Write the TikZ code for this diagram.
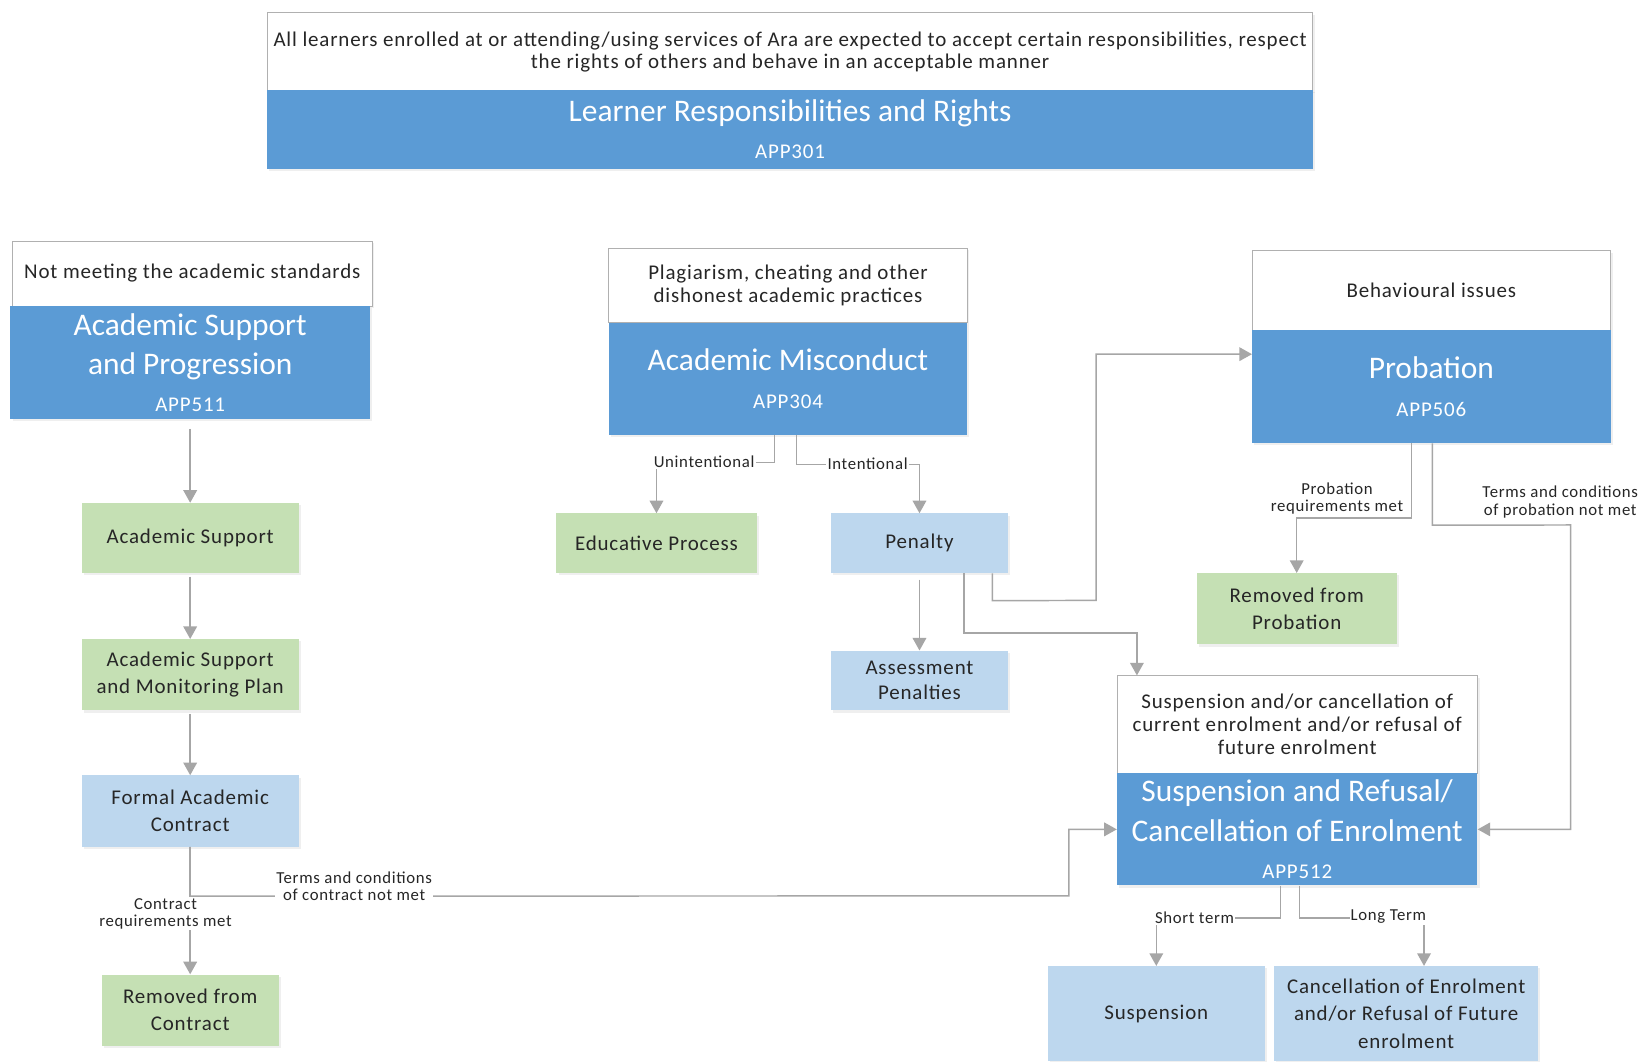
\documentclass[tikz,border=0pt]{standalone}
\usepackage{fontspec}
\setmainfont{Carlito}
\newfontfamily\bodyf{Carlito}[LetterSpace=4]
\usetikzlibrary{arrows.meta,shadows}
\definecolor{dblue}{HTML}{5B9BD5}
\definecolor{lblue}{HTML}{BDD7EE}
\definecolor{lgreen}{HTML}{C5E0B4}
\definecolor{lnc}{HTML}{A6A6A6}
\definecolor{bdr}{HTML}{B0B0B0}
\definecolor{txt}{HTML}{262626}
\newcommand\codef{\bodyf\fontsize{20}{24}\selectfont}
\begin{document}
\begin{tikzpicture}[x=1pt,y=-1pt,
  box/.style={rectangle, inner sep=0pt, align=center,
    drop shadow={shadow xshift=2pt, shadow yshift=-2pt, opacity=0.12}},
  whitebox/.style={box, draw=bdr, line width=0.9pt, fill=white, text=txt,
    font=\bodyf\fontsize{20}{21.5}\selectfont},
  bluebox/.style={box, fill=dblue, text=white, font=\fontsize{30}{38}\selectfont},
  lbbox/.style={box, fill=lblue, text=txt, font=\bodyf\fontsize{20}{26}\selectfont},
  grbox/.style={box, fill=lgreen, text=txt, font=\bodyf\fontsize{20}{26}\selectfont},
  conn/.style={draw=lnc, line width=1.4pt, -{Triangle[width=13pt,length=12pt]}},
  lbl/.style={fill=white, inner sep=1pt, text=txt, align=center,
    font=\bodyf\fontsize{16}{16.5}\selectfont},
]
\path[use as bounding box, fill=white] (0,0) rectangle (1568,1013);

% top
\node[whitebox, minimum width=998pt, minimum height=75pt] (topw) at (754,49.5)
  {All learners enrolled at or attending/using services of Ara are expected to accept certain responsibilities, respect\\the rights of others and behave in an acceptable manner};
\node[bluebox, minimum width=998pt, minimum height=75pt] (topb) at (754,123.5)
  {Learner Responsibilities and Rights\\[-2.5pt]{\codef APP301}};

% left column
\node[whitebox, minimum width=343pt, minimum height=62pt] (aspw) at (183.5,261) {Not meeting the academic standards};
\node[bluebox, minimum width=343pt, minimum height=108pt] (aspb) at (181.5,346)
  {Academic Support\\and Progression\\[-3pt]{\codef APP511}};
\node[grbox, minimum width=207pt, minimum height=67pt] (as1) at (181.5,513.5) {Academic Support};
\node[grbox, minimum width=207pt, minimum height=68pt] (asmp) at (181.5,644) {Academic Support\\and Monitoring Plan};
\node[lbbox, minimum width=207pt, minimum height=68pt] (fac) at (181.5,774) {Formal Academic\\Contract};
\node[grbox, minimum width=169pt, minimum height=68pt] (rfc) at (181.5,964) {Removed from\\Contract};

% middle column
\node[whitebox, minimum width=342pt, minimum height=71pt] (amw) at (752,272.5)
  {Plagiarism, cheating and other\\dishonest academic practices};
\node[bluebox, minimum width=342pt, minimum height=107pt] (amb) at (752,361.5)
  {Academic Misconduct\\[-2pt]{\codef APP304}};
\node[grbox, minimum width=191pt, minimum height=57pt] (edu) at (626.5,518.5) {Educative Process};
\node[lbbox, minimum width=169pt, minimum height=57pt] (pen) at (877.5,518.5) {Penalty\vphantom{g}};
\node[lbbox, minimum width=169pt, minimum height=57pt, font=\bodyf\fontsize{20}{24}\selectfont] (ass) at (877.5,649.5)
  {Assessment\\Penalties};

% right column
\node[whitebox, minimum width=342pt, minimum height=76pt] (prw) at (1366,277) {Behavioural issues};
\node[bluebox, minimum width=342pt, minimum height=108pt] (prb) at (1366,369)
  {Probation\\[-1pt]{\codef APP506}};
\node[grbox, minimum width=191pt, minimum height=68pt] (rfp) at (1237.5,581) {Removed from\\Probation};

\node[whitebox, minimum width=344pt, minimum height=93pt, font=\bodyf\fontsize{20}{22}\selectfont] (sw) at (1238,691.5)
  {Suspension and/or cancellation of\\current enrolment and/or refusal of\\future enrolment};
\node[bluebox, minimum width=344pt, minimum height=107pt] (sb) at (1238,791.5)
  {Suspension and Refusal/\\Cancellation of Enrolment\\[-3pt]{\codef APP512}};
\node[lbbox, minimum width=207pt, minimum height=91pt] (susp) at (1103.5,967.5) {Suspension};
\node[lbbox, minimum width=252pt, minimum height=91pt] (canc) at (1342,967.5)
  {Cancellation of Enrolment\\and/or Refusal of Future\\enrolment};

% connectors left
\draw[conn] ([yshift=-9pt]aspb.south) -- (as1.north);
\draw[conn] ([yshift=-3pt]as1.south) -- (asmp.north);
\draw[conn] ([yshift=-3pt]asmp.south) -- (fac.north);
\draw[conn] (fac.south) -- (rfc.north);
\draw[conn] (fac.south) -- ++(0,47) -- (1020,855) |- (sb.west);
\node[lbl] (lc1) at (158,872) {Contract\\requirements met};
\node[lbl] (lc2) at (338,846) {Terms and conditions\\of contract not met};

% connectors middle
\draw[conn] ([xshift=-13pt]amb.south) -- ++(0,26) -| (edu.north);
\draw[conn] ([xshift=8pt]amb.south) -- ++(0,28) -| (pen.north);
\node[lbl] (lu) at (672,441) {Unintentional};
\node[lbl] (li) at (828,443) {Intentional};
\draw[conn] ([yshift=-6pt]pen.south) -- (ass.north);
\draw[conn] ([xshift=69.5pt]pen.south) -- ++(0,26) -- (1046,573) |- ([yshift=31pt]prb.west);
\draw[conn] ([xshift=42.5pt]pen.south) -- ++(0,57) -| ([xshift=-153pt]sw.north);

% connectors right
\draw[conn] ([xshift=-19pt]prb.south) -- ++(0,71) -| (rfp.north);
\node[lbl] (lp1) at (1276,476) {Probation\\requirements met};
\draw[conn] ([xshift=1pt]prb.south) -- ++(0,78) -- (1499,501) |- (sb.east);
\node[lbl] (lp2) at (1489,479) {Terms and conditions\\of probation not met};
\draw[conn] ([xshift=-16pt]sb.south) -- ++(0,31) -| (susp.north);
\draw[conn] ([xshift=2pt]sb.south) -- ++(0,31) -| ([xshift=17pt]canc.north);
\node[lbl] (ls) at (1140,876) {Short term};
\node[lbl] (ll) at (1325,875) {Long Term};
\end{tikzpicture}
\end{document}
